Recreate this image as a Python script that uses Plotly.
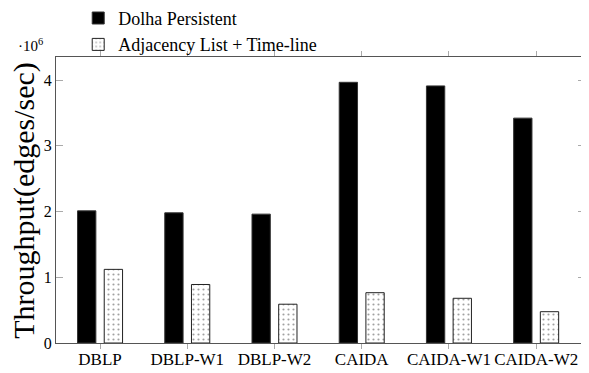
import plotly.graph_objects as go

categories = ["DBLP", "DBLP-W1", "DBLP-W2", "CAIDA", "CAIDA-W1", "CAIDA-W2"]
dolha = [2.01e6, 1.98e6, 1.96e6, 3.965e6, 3.91e6, 3.42e6]
adjacency = [1.12e6, 0.89e6, 0.59e6, 0.765e6, 0.68e6, 0.476e6]
y_ticks = [0, 1e6, 2e6, 3e6, 4e6]
y_ticktext = ["0", "1", "2", "3", "4"]

xs = list(range(len(categories)))
SERIF = "Liberation Serif"

fig = go.Figure()
fig.add_trace(go.Bar(
    x=xs, y=dolha, name="Dolha Persistent",
    width=0.21, offset=-0.258,
    marker=dict(color="black", line=dict(color="#333", width=1)),
))
fig.add_trace(go.Bar(
    x=xs, y=adjacency, name="Adjacency List + Time-line",
    width=0.21, offset=0.048,
    marker=dict(color="white", line=dict(color="#222", width=1),
                pattern=dict(shape=".", size=5, solidity=0.15,
                             fgcolor="#444", bgcolor="white", fillmode="overlay")),
))

# page body has an 8px margin, so the figure is laid out 8px smaller
fig.update_layout(
    width=581, height=365,
    margin=dict(l=48, r=4, t=49, b=30, autoexpand=False),
    plot_bgcolor="white", paper_bgcolor="white",
    barmode="overlay",
    showlegend=True,
    legend=dict(x=0.042, y=1.2, xanchor="left", yanchor="top",
                font=dict(family=SERIF, size=18, color="black"),
                bgcolor="rgba(0,0,0,0)", borderwidth=0,
                tracegroupgap=0, itemwidth=30),
    font=dict(family=SERIF, color="black"),
)
fig.update_xaxes(
    range=[-0.505, 5.56], tickvals=xs, ticktext=categories,
    ticks="outside", ticklen=5, tickcolor="#aaa", mirror="ticks",
    showline=True, linecolor="#555", linewidth=1, showgrid=False, zeroline=False,
    tickfont=dict(family=SERIF, size=17, color="black"), automargin=False,
    ticklabelstandoff=-4,
)
fig.update_yaxes(
    range=[0, 4.35e6], tickvals=y_ticks, ticktext=y_ticktext,
    ticks="inside", ticklen=7, tickcolor="#aaa", mirror="ticks",
    showline=True, linecolor="#555", linewidth=1, showgrid=False, zeroline=False,
    tickfont=dict(family=SERIF, size=16, color="black"), automargin=False,
)
fig.add_annotation(
    xref="paper", yref="paper", x=-0.061, y=0.5, xanchor="center", yanchor="middle",
    text="Throughput(edges/sec)", textangle=-90, showarrow=False,
    font=dict(family=SERIF, size=30, color="black"),
)
fig.add_annotation(
    xref="paper", yref="paper", x=-0.075, y=1.0, xanchor="left", yanchor="bottom",
    text="·10<sup>6</sup>", showarrow=False,
    font=dict(family=SERIF, size=15, color="black"), yshift=1,
)
fig.write_html("out.html")
